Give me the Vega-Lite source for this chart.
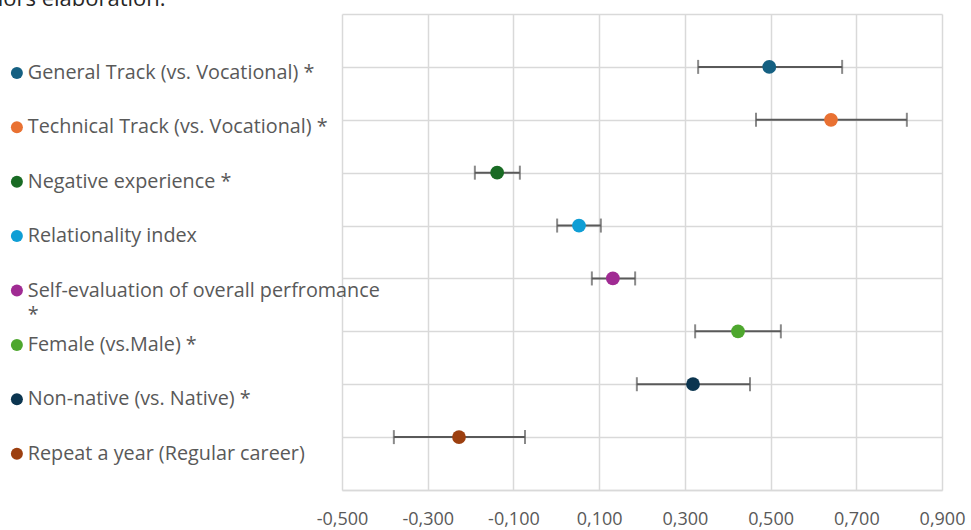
{
  "$schema": "https://vega.github.io/schema/vega-lite/v6.json",
  "width": 600,
  "height": 476,
  "autosize": {"type": "none"},
  "padding": {"left": 342, "top": 14, "right": 29, "bottom": 40},
  "background": "white",
  "title": {
    "text": "Source: authors elaboration.",
    "anchor": "start",
    "frame": "group",
    "orient": "top",
    "baseline": "alphabetic",
    "offset": 2,
    "dx": -468,
    "dy": 15.5,
    "font": "Open Sans",
    "fontSize": 22,
    "fontWeight": "normal",
    "color": "#262626"
  },
  "data": {
    "values": [
      {"label": "General Track (vs. Vocational) *", "row": 8, "est": 0.497, "lo": 0.331, "hi": 0.667},
      {"label": "Technical Track (vs. Vocational) *", "row": 7, "est": 0.641, "lo": 0.466, "hi": 0.818},
      {"label": "Negative experience *", "row": 6, "est": -0.138, "lo": -0.190, "hi": -0.085},
      {"label": "Relationality index", "row": 5, "est": 0.053, "lo": 0.002, "hi": 0.104},
      {"label": "Self-evaluation of overall perfromance *", "row": 4, "est": 0.132, "lo": 0.083, "hi": 0.184},
      {"label": "Female (vs.Male) *", "row": 3, "est": 0.424, "lo": 0.324, "hi": 0.524},
      {"label": "Non-native (vs. Native) *", "row": 2, "est": 0.319, "lo": 0.188, "hi": 0.452},
      {"label": "Repeat a year (Regular career)", "row": 1, "est": -0.227, "lo": -0.379, "hi": -0.073}
    ]
  },
  "encoding": {
    "y": {
      "field": "row",
      "type": "quantitative",
      "scale": {"domain": [0, 9], "nice": false, "zero": false},
      "axis": {
        "title": null,
        "values": [0, 1, 2, 3, 4, 5, 6, 7, 8, 9],
        "labels": false,
        "ticks": false,
        "domain": false,
        "grid": true,
        "gridColor": "#d9d9d9",
        "gridWidth": 1.5
      }
    }
  },
  "layer": [
    {
      "mark": {
        "type": "errorbar",
        "ticks": {"size": 14, "thickness": 2, "color": "#595959"},
        "rule": {"strokeWidth": 2, "color": "#595959"}
      },
      "encoding": {
        "x": {
          "field": "lo",
          "type": "quantitative",
          "scale": {"domain": [-0.5, 0.9], "nice": false, "zero": false},
          "axis": {
            "title": null,
            "values": [-0.5, -0.3, -0.1, 0.1, 0.3, 0.5, 0.7, 0.9],
            "labelExpr": "replace(replace(format(datum.value, '.3f'), '.', ','), '\u2212', '-')",
            "labelFlush": false,
            "labelOverlap": false,
            "ticks": false,
            "domain": true,
            "domainColor": "#d9d9d9",
            "domainWidth": 1.5,
            "grid": true,
            "gridColor": "#d9d9d9",
            "gridWidth": 1.5,
            "labelFont": "Open Sans",
            "labelFontSize": 18,
            "labelColor": "#595959",
            "labelPadding": 20
          }
        },
        "x2": {"field": "hi"}
      }
    },
    {
      "mark": {"type": "circle", "size": 190, "opacity": 1},
      "encoding": {
        "x": {"field": "est", "type": "quantitative"},
        "color": {
          "field": "label",
          "type": "nominal",
          "sort": null,
          "scale": {
            "domain": [
              "General Track (vs. Vocational) *",
              "Technical Track (vs. Vocational) *",
              "Negative experience *",
              "Relationality index",
              "Self-evaluation of overall perfromance *",
              "Female (vs.Male) *",
              "Non-native (vs. Native) *",
              "Repeat a year (Regular career)"
            ],
            "range": ["#156082", "#E97132", "#196B24", "#0F9ED5", "#A02B93", "#4EA72E", "#0B3550", "#9C3F0F"]
          },
          "legend": {
            "title": null,
            "orient": "none",
            "legendX": -335,
            "legendY": 49,
            "symbolType": "circle",
            "symbolSize": 144,
            "symbolStrokeWidth": 0,
            "symbolOpacity": 1,
            "labelOffset": 1,
            "labelFont": "Open Sans",
            "labelFontSize": 19.8,
            "labelColor": "#595959",
            "labelLimit": 600,
            "gridAlign": "all",
            "rowPadding": 9.4,
            "labelExpr": "datum.label == 'Self-evaluation of overall perfromance *' ? ['Self-evaluation of overall perfromance', '*'] : datum.label",
            "encode": {"labels": {"update": {"lineHeight": {"value": 24}}}}
          }
        }
      }
    }
  ],
  "config": {
    "view": {"stroke": null},
    "font": "Open Sans"
  }
}
